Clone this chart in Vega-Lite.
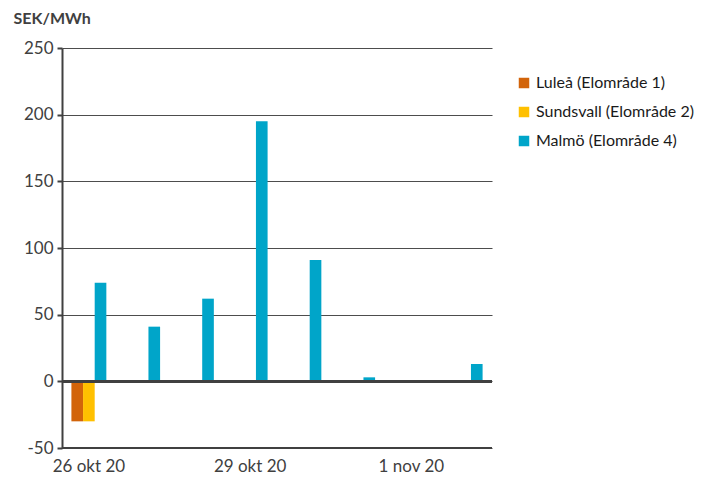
{
  "$schema": "https://vega.github.io/schema/vega-lite/v6.json",
  "autosize": "none",
  "width": 430,
  "height": 400,
  "padding": {"left": 62, "top": 48, "right": 221, "bottom": 36},
  "background": "white",
  "config": {
    "font": "Lato",
    "view": {"stroke": null}
  },
  "data": {
    "values": [
      {"day": "26 okt 20", "series": "Luleå (Elområde 1)", "value": -30},
      {"day": "26 okt 20", "series": "Sundsvall (Elområde 2)", "value": -30},
      {"day": "26 okt 20", "series": "Malmö (Elområde 4)", "value": 74},
      {"day": "27 okt 20", "series": "Luleå (Elområde 1)", "value": 0},
      {"day": "27 okt 20", "series": "Sundsvall (Elområde 2)", "value": 0},
      {"day": "27 okt 20", "series": "Malmö (Elområde 4)", "value": 41},
      {"day": "28 okt 20", "series": "Luleå (Elområde 1)", "value": 0},
      {"day": "28 okt 20", "series": "Sundsvall (Elområde 2)", "value": 0},
      {"day": "28 okt 20", "series": "Malmö (Elområde 4)", "value": 62},
      {"day": "29 okt 20", "series": "Luleå (Elområde 1)", "value": 0},
      {"day": "29 okt 20", "series": "Sundsvall (Elområde 2)", "value": 0},
      {"day": "29 okt 20", "series": "Malmö (Elområde 4)", "value": 195},
      {"day": "30 okt 20", "series": "Luleå (Elområde 1)", "value": 0},
      {"day": "30 okt 20", "series": "Sundsvall (Elområde 2)", "value": 0},
      {"day": "30 okt 20", "series": "Malmö (Elområde 4)", "value": 91},
      {"day": "31 okt 20", "series": "Luleå (Elområde 1)", "value": 0},
      {"day": "31 okt 20", "series": "Sundsvall (Elområde 2)", "value": 0},
      {"day": "31 okt 20", "series": "Malmö (Elområde 4)", "value": 3},
      {"day": "1 nov 20", "series": "Luleå (Elområde 1)", "value": 0},
      {"day": "1 nov 20", "series": "Sundsvall (Elområde 2)", "value": 0},
      {"day": "1 nov 20", "series": "Malmö (Elområde 4)", "value": 0},
      {"day": "2 nov 20", "series": "Luleå (Elområde 1)", "value": 0},
      {"day": "2 nov 20", "series": "Sundsvall (Elområde 2)", "value": 0},
      {"day": "2 nov 20", "series": "Malmö (Elområde 4)", "value": 13}
    ]
  },
  "layer": [
    {
      "mark": {"type": "bar"},
      "encoding": {
        "x": {
          "field": "day",
          "type": "ordinal",
          "sort": null,
          "scale": {"paddingInner": 0.35, "paddingOuter": 0.175},
          "axis": {
            "title": null,
            "labelAngle": 0,
            "labelExpr": "indexof(['26 okt 20','29 okt 20','1 nov 20'], datum.value) >= 0 ? datum.value : ''",
            "labelFontSize": 17,
            "labelColor": "#404040",
            "labelPadding": 10,
            "ticks": false,
            "domain": false,
            "offset": 0
          }
        },
        "xOffset": {
          "field": "series",
          "type": "nominal",
          "sort": ["Luleå (Elområde 1)", "Sundsvall (Elområde 2)", "Malmö (Elområde 4)"],
          "scale": {"paddingInner": 0, "paddingOuter": 0}
        },
        "y": {
          "field": "value",
          "type": "quantitative",
          "scale": {"domain": [-50, 250], "nice": false},
          "axis": {
            "values": [-50, 0, 50, 100, 150, 200, 250],
            "labelExpr": "replace(datum.label, '−', '-')",
            "title": "SEK/MWh",
            "titleAngle": 0,
            "titleAlign": "left",
            "titleBaseline": "middle",
            "titleX": -49,
            "titleY": -30,
            "titleFontSize": 16,
            "titleFontWeight": "bold",
            "titleColor": "#404040",
            "labelFontSize": 17,
            "labelColor": "#404040",
            "labelPadding": 4,
            "grid": true,
            "gridColor": "#4d4d4d",
            "gridWidth": 1,
            "domainColor": "#404040",
            "domainWidth": 2,
            "tickColor": "#404040",
            "tickWidth": 2,
            "tickSize": 5
          }
        },
        "color": {
          "field": "series",
          "type": "nominal",
          "sort": ["Luleå (Elområde 1)", "Sundsvall (Elområde 2)", "Malmö (Elområde 4)"],
          "scale": {
            "domain": ["Luleå (Elområde 1)", "Sundsvall (Elområde 2)", "Malmö (Elområde 4)"],
            "range": ["#D2640A", "#FFC000", "#00A5C9"]
          },
          "legend": {
            "title": null,
            "orient": "none",
            "legendX": 454,
            "legendY": 27,
            "symbolType": "square",
            "symbolSize": 110,
            "symbolStrokeWidth": 0,
            "labelFontSize": 16,
            "labelColor": "#1a1a1a",
            "labelOffset": 4,
            "rowPadding": 13
          }
        }
      }
    },
    {
      "mark": {"type": "rule", "color": "#404040", "strokeWidth": 2.5},
      "encoding": {"y": {"datum": 0}}
    },
    {
      "mark": {"type": "rule", "color": "#404040", "strokeWidth": 2},
      "encoding": {"y": {"datum": -50}}
    }
  ]
}
